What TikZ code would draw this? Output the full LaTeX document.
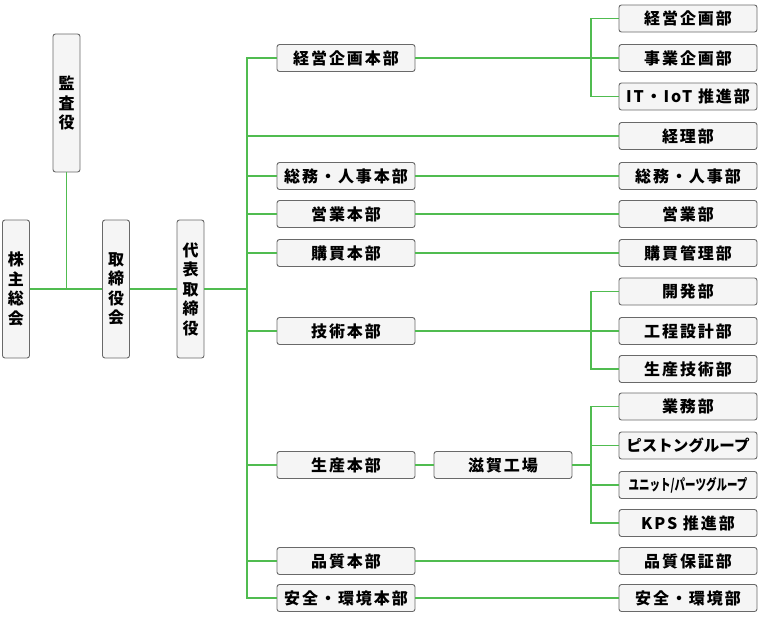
\documentclass[tikz,border=0pt]{standalone}
\usepackage{fontspec}
\newfontfamily\jpfont{Noto Sans CJK JP}[LetterSpace=12]
\usetikzlibrary{positioning}
\definecolor{LineGreen}{RGB}{80,188,80}
\definecolor{BoxGray}{RGB}{245,245,245}
\definecolor{EdgeGray}{RGB}{105,105,105}
\tikzset{
	box/.style={draw=EdgeGray, fill=BoxGray, rounded corners=2.5pt, line width=0.9pt, inner sep=0pt,
		font=\jpfont\bfseries\fontsize{16}{19.5}\selectfont},
	hbox/.style={box, minimum width=138pt, minimum height=27pt},
	vbox/.style={box, minimum width=27pt, minimum height=138pt, align=center},
	link/.style={draw=LineGreen, line width=1.3pt},
}

\begin{document}
\begin{tikzpicture}[x=1pt,y=-1pt]
	\useasboundingbox (0,0) rectangle (760,616);
	
	% ---------------------
	% Top management
	\node[vbox] (Shareholders) at (16,289) {株\\主\\総\\会};
	\node[vbox] (Auditor) at (66.5,103) {監\\査\\役};
	\node[vbox] (Board) at (116,289) {取\\締\\役\\会};
	\node[vbox] (President) at (190.5,289) {代\\表\\取\\締\\役};
	
	\coordinate (AuditJoin) at (Auditor.south |- Board.west);
	\coordinate (TrunkX) at (247,0);
	\coordinate (PlanX) at (591,0);
	
	% ---------------------
	% Head offices
	\node[hbox] (PlanningHQ) at (346,58) {経営企画本部};
	\node[hbox] (GeneralHQ) at (346,176) {総務・人事本部};
	\node[hbox] (SalesHQ) at (346,214) {営業本部};
	\node[hbox] (PurchaseHQ) at (346,253) {購買本部};
	\node[hbox] (TechHQ) at (346,331) {技術本部};
	\node[hbox] (ProductionHQ) at (346,465) {生産本部};
	\node[hbox] (QualityHQ) at (346,561) {品質本部};
	\node[hbox] (SafetyHQ) at (346,598) {安全・環境本部};
	
	\node[hbox] (ShigaPlant) at (503,465) {滋賀工場};
	
	% ---------------------
	% Departments
	\node[hbox] (PlanningDept) at (688,18.5) {経営企画部};
	\node[hbox] (BusinessDept) at (688,58) {事業企画部};
	\node[hbox] (IoTDept) at (688,96.5) {IT・IoT 推進部};
	\node[hbox] (Accounting) at (688,136) {経理部};
	\node[hbox] (GeneralDept) at (688,176) {総務・人事部};
	\node[hbox] (SalesDept) at (688,214) {営業部};
	\node[hbox] (PurchaseDept) at (688,253) {購買管理部};
	\node[hbox] (DevDept) at (688,291.5) {開発部};
	\node[hbox] (ProcessDept) at (688,331) {工程設計部};
	\node[hbox] (ProdTechDept) at (688,369) {生産技術部};
	\node[hbox] (AffairsDept) at (688,406.5) {業務部};
	\node[hbox] (PistonGroup) at (688,445.5) {\addfontfeatures{LetterSpace=0}\fontsize{15.5}{18}\selectfont ピストングループ};
	\node[hbox] (UnitGroup) at (688,485) {\scalebox{0.7}[1]{\addfontfeatures{LetterSpace=0}\fontsize{15}{18}\selectfont ユニット/パーツグループ}};
	\node[hbox] (KPSDept) at (688,523) {KPS 推進部};
	\node[hbox] (QualityDept) at (688,561) {品質保証部};
	\node[hbox] (SafetyDept) at (688,598) {安全・環境部};
	
	% ------------------------------------------------
	% Connectors
	\draw[link] (Shareholders.east) -- (Board.west);
	\draw[link] (Auditor.south) -- (AuditJoin);
	\draw[link] (Board.east) -- (President.west);
	\draw[link] (President.east) -- (TrunkX |- President.east);
	
	\draw[link] (PlanningHQ.west) -| (TrunkX |- SafetyHQ.west) -- (SafetyHQ.west);
	\foreach \hq in {GeneralHQ,SalesHQ,PurchaseHQ,TechHQ,ProductionHQ,QualityHQ}
		\draw[link] (TrunkX |- \hq.west) -- (\hq.west);
	\draw[link] (TrunkX |- Accounting.west) -- (Accounting.west);
	
	\draw[link] (GeneralHQ.east) -- (GeneralDept.west);
	\draw[link] (SalesHQ.east) -- (SalesDept.west);
	\draw[link] (PurchaseHQ.east) -- (PurchaseDept.west);
	\draw[link] (QualityHQ.east) -- (QualityDept.west);
	\draw[link] (SafetyHQ.east) -- (SafetyDept.west);
	\draw[link] (ProductionHQ.east) -- (ShigaPlant.west);
	
	% branches
	\draw[link] (PlanningHQ.east) -- (PlanX |- PlanningHQ.east);
	\draw[link] (PlanningDept.west) -| (PlanX |- IoTDept.west) -- (IoTDept.west);
	\draw[link] (PlanX |- BusinessDept.west) -- (BusinessDept.west);
	
	\draw[link] (TechHQ.east) -- (PlanX |- TechHQ.east);
	\draw[link] (DevDept.west) -| (PlanX |- ProdTechDept.west) -- (ProdTechDept.west);
	\draw[link] (PlanX |- ProcessDept.west) -- (ProcessDept.west);
	
	\draw[link] (ShigaPlant.east) -- (PlanX |- ShigaPlant.east);
	\draw[link] (AffairsDept.west) -| (PlanX |- KPSDept.west) -- (KPSDept.west);
	\foreach \dept in {PistonGroup,UnitGroup}
		\draw[link] (PlanX |- \dept.west) -- (\dept.west);
	
\end{tikzpicture}
\end{document}
